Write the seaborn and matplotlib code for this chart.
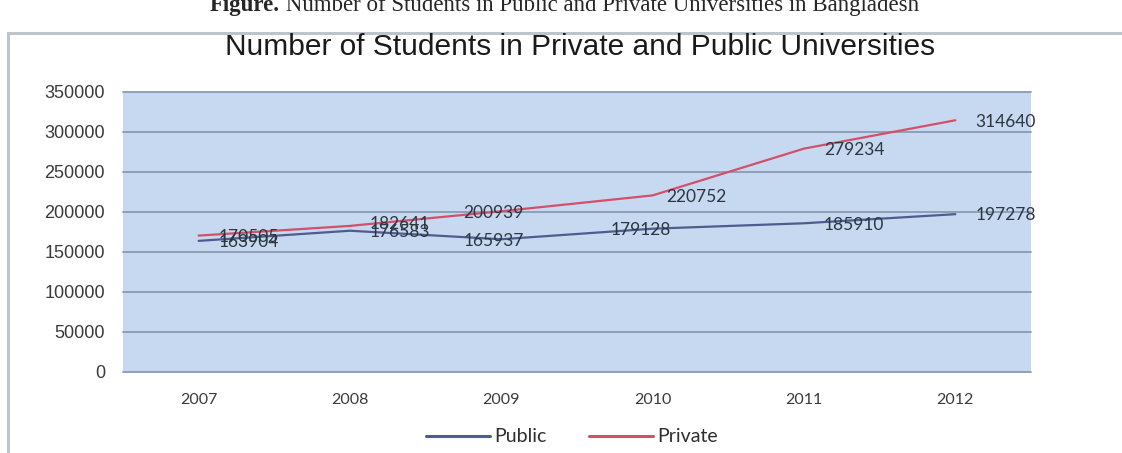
import matplotlib
matplotlib.use("Agg")
import matplotlib.pyplot as plt
import seaborn as sns
import pandas as pd
from matplotlib.patches import Rectangle
from matplotlib.lines import Line2D

years = ["2007", "2008", "2009", "2010", "2011", "2012"]
public = [163904, 176583, 165937, 179128, 185910, 197278]
private = [170505, 182641, 200939, 220752, 279234, 314640]
series_names = ["Public", "Private"]
yticks = [0, 50000, 100000, 150000, 200000, 250000, 300000, 350000]

title = "Number of Students in Private and Public Universities"
caption_bold = "Figure."
caption_rest = " Number of Students in Public and Private Universities in Bangladesh"

# label offsets in pixels (dx to label left edge, dy downward)
pub_off = [(20, 1), (20, 1), (-38, 2), (-42, 1), (20, 2), (20, 1)]
pri_off = [(20, 1), (20, -2), (-38, 2), (14, 2), (20, 1), (20, 2)]

df = pd.DataFrame({
    "year": years * 2,
    "students": public + private,
    "series": [series_names[0]] * len(years) + [series_names[1]] * len(years),
})

sns.set_theme(style="white")
plt.rcParams["font.family"] = ["Liberation Sans", "DejaVu Sans"]

W, H = 1122, 453
fig = plt.figure(figsize=(W / 100, H / 100), dpi=100)
fig.patch.set_facecolor("white")

# outer frame
fig.patches.append(Rectangle((8 / W, -0.05), 1.2, (H - 33) / H + 0.05,
                             transform=fig.transFigure, fill=False,
                             edgecolor="#BFC4C8", lw=2.2))

ax = fig.add_axes([123 / W, 1 - 372 / H, (1031 - 123) / W, (372 - 92) / H])
ax.set_facecolor("#C6D9F0")

blue = "#4E5C8E"
red = "#D2506A"
sns.lineplot(data=df, x="year", y="students", hue="series",
             palette={"Public": blue, "Private": red}, lw=1.6,
             legend=False, ax=ax, sort=False)

ax.set_xlim(-0.5, len(years) - 0.5)
ax.set_ylim(0, 350000)
ax.set_yticks(yticks)
ax.set_yticklabels([str(v) for v in yticks], fontsize=13, color="#3A3A3A",
                   family=["Liberation Sans"])
ax.set_xticks(range(len(years)))
ax.set_xticklabels(years, fontsize=11.5, color="#3A3A3A", family=["Lato"])
ax.tick_params(axis="y", length=0, pad=13)
ax.tick_params(axis="x", length=0, pad=15)
ax.set_xlabel("")
ax.set_ylabel("")
for s in ax.spines.values():
    s.set_visible(False)
for v in yticks:
    ax.axhline(v, color="#8A9BB3", lw=1.3, zorder=0.5, clip_on=False)

px = 72 / 100
for vals, offs in ((public, pub_off), (private, pri_off)):
    for i, (v, (dx, dy)) in enumerate(zip(vals, offs)):
        ax.annotate(str(v), (i, v), xytext=(dx * px, -dy * px),
                    textcoords="offset points", ha="left", va="center",
                    fontsize=12.5, color="#2E3640", family=["Lato"],
                    annotation_clip=False, zorder=5)

fig.text(580 / W, 1 - 47 / H, title, ha="center", va="center",
         fontsize=21.5, color="#1A1A1A")

# caption at top (partly cut)
t1 = fig.text(210 / W, 1 - 5 / H, caption_bold, ha="left", va="center",
              fontsize=16.5, fontweight="bold", family=["Liberation Serif"])
fig.canvas.draw()
bb = t1.get_window_extent()
fig.text(bb.x1 / W, 1 - 5 / H, caption_rest, ha="left", va="center",
         fontsize=16.5, family=["Liberation Serif"])

handles = [Line2D([], [], color=blue, lw=2.2), Line2D([], [], color=red, lw=2.2)]
leg = fig.legend(handles, series_names, loc="center", ncol=2,
                 bbox_to_anchor=(572 / W, 1 - 437 / H), frameon=False,
                 prop={"family": "Lato", "size": 14}, handlelength=3.3,
                 handletextpad=0.2, columnspacing=2.2)
for t in leg.get_texts():
    t.set_color("#2E2E2E")

fig.savefig("out.png", dpi=100)
